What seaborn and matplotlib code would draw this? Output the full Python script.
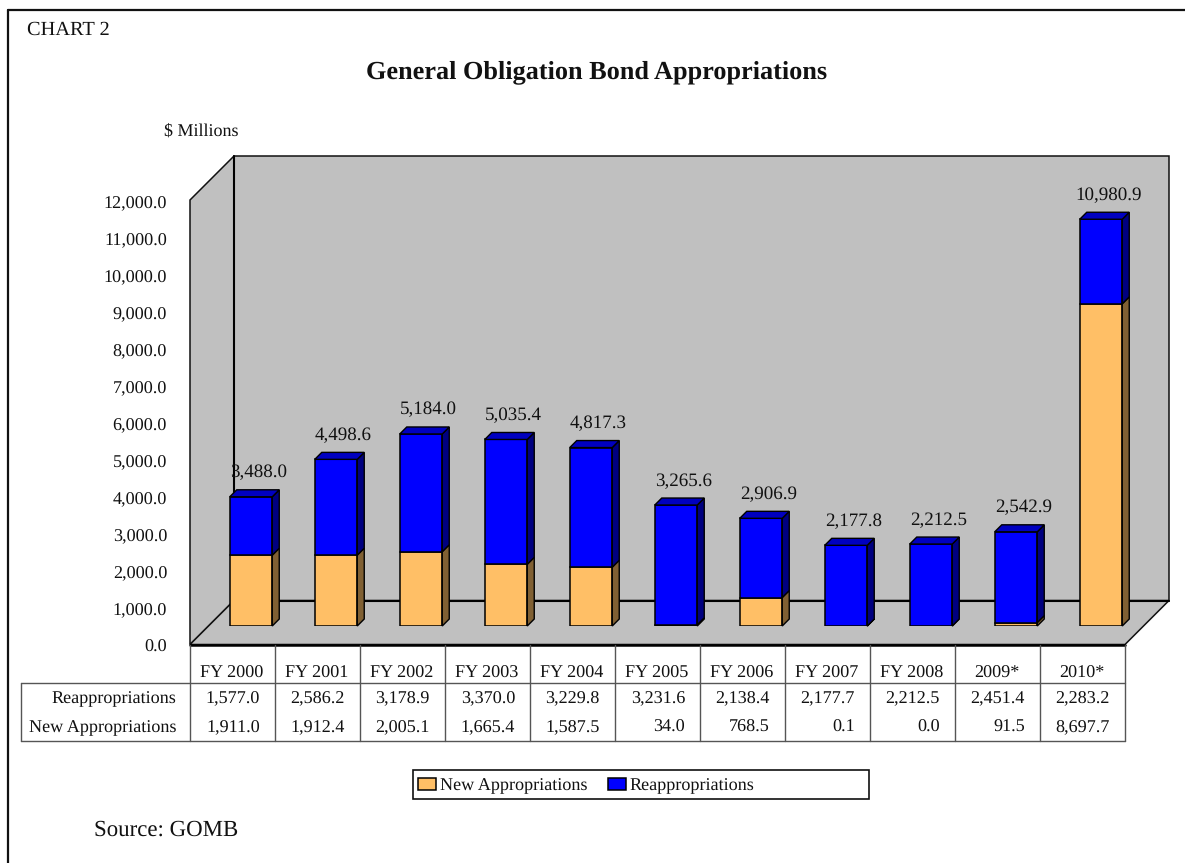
import matplotlib
matplotlib.use("Agg")
import matplotlib.pyplot as plt
from matplotlib.lines import Line2D
from matplotlib.patches import Patch, Polygon, Rectangle
from matplotlib.transforms import Affine2D, IdentityTransform, offset_copy
import pandas as pd
import seaborn as sns

years = ["FY 2000", "FY 2001", "FY 2002", "FY 2003", "FY 2004", "FY 2005",
         "FY 2006", "FY 2007", "FY 2008", "2009*", "2010*"]
reappropriations = [1577.0, 2586.2, 3178.9, 3370.0, 3229.8, 3231.6,
                    2138.4, 2177.7, 2212.5, 2451.4, 2283.2]
new_appropriations = [1911.0, 1912.4, 2005.1, 1665.4, 1587.5, 34.0,
                      768.5, 0.1, 0.0, 91.5, 8697.7]
totals = [3488.0, 4498.6, 5184.0, 5035.4, 4817.3, 3265.6,
          2906.9, 2177.8, 2212.5, 2542.9, 10980.9]

W, H = 1185, 863
sns.set_style("white")
plt.rcParams["font.family"] = ["Liberation Serif", "DejaVu Serif"]
plt.rcParams["text.color"] = "#111111"
plt.rcParams["ytick.color"] = "#111111"
plt.rcParams["text.hinting"] = "no_hinting"
FS = 13.1

ORANGE, ORANGE_SIDE = "#FFBF66", "#806033"
BLUE, BLUE_SIDE, BLUE_TOP = "#0000FF", "#000080", "#0000C0"
WALL = "#C0C0C0"

fig = plt.figure(figsize=(W / 100, H / 100), dpi=100, facecolor="white")
px = Affine2D().scale(1 / W, -1 / H).translate(0, 1) + fig.transFigure


def axes_at(left, top, right, bottom, **kw):
    return fig.add_axes([left / W, 1 - bottom / H, (right - left) / W, (bottom - top) / H], **kw)


# plot geometry, in reference pixels
L, T, R, B = 190, 200, 1125, 644.5
DEPTH, BAR_SHIFT, BAR_DEPTH = 44, 18.5, 7

# outer frame
for xs, ys in [([7.5, 7.5], [10.5, H]), ([7.5, W], [10.5, 10.5])]:
    fig.add_artist(Line2D(xs, ys, transform=px, color="#111111", lw=1.6))

# walls and floor
walls = [
    [(L, T), (L + DEPTH, T - DEPTH), (L + DEPTH, B - DEPTH), (L, B)],
    [(L + DEPTH, T - DEPTH), (R + DEPTH, T - DEPTH), (R + DEPTH, B - DEPTH), (L + DEPTH, B - DEPTH)],
    [(L, B), (L + DEPTH, B - DEPTH), (R + DEPTH, B - DEPTH), (R, B)],
]
for pts in walls:
    fig.add_artist(Polygon(pts, closed=True, transform=px, facecolor=WALL,
                           edgecolor="#111111", lw=1.1, zorder=-2))
fig.add_artist(Line2D([L, R], [B, B], transform=px, color="black", lw=1.8, zorder=-1))
fig.add_artist(Line2D([L + DEPTH, L + DEPTH], [T - DEPTH, B - DEPTH], transform=px, color="black", lw=1.5, zorder=-1))
fig.add_artist(Line2D([L + DEPTH, R + DEPTH], [B - DEPTH, B - DEPTH], transform=px, color="black", lw=1.5, zorder=-1))

# value axis on the front plane
ax = axes_at(L, T, R, B)
ax.patch.set_visible(False)
ax.set_xlim(-0.5, 10.5)
ax.set_ylim(0, 12000)
ax.set_yticks(range(0, 12001, 1000))
ax.set_yticklabels([f"{v:,.1f}" for v in range(0, 12001, 1000)], fontsize=FS)
ax.set_xticks([])
ax.tick_params(axis="y", length=0, pad=16.5)
for tick_label in ax.get_yticklabels():
    tick_label.set_transform(tick_label.get_transform() + Affine2D().translate(0, -1.5))
sns.despine(ax=ax, left=True, bottom=True)

# bars on a plane shifted into the depth of the chart
bar_ax = axes_at(L + BAR_SHIFT, T - BAR_SHIFT, R + BAR_SHIFT, B - BAR_SHIFT)
bar_ax.patch.set_visible(False)
df = pd.DataFrame({"Year": years, "New": new_appropriations, "Re": reappropriations, "Total": totals})
style = dict(width=0.5, saturation=1, edgecolor="black", linewidth=1.1, ax=bar_ax, legend=False)
sns.barplot(data=df, x="Year", y="New", color=ORANGE, **style)
sns.barplot(data=df, x="Year", y="Re", bottom=df["New"], color=BLUE, **style)
bar_ax.set_xlim(-0.5, 10.5)
bar_ax.set_ylim(0, 12000)
bar_ax.set_axis_off()

n = len(years)
for i, p in enumerate(list(bar_ax.patches)):
    x0, x1 = p.get_x(), p.get_x() + p.get_width()
    y0, y1 = p.get_y(), p.get_y() + p.get_height()
    is_blue = i >= n
    to_px = bar_ax.transData
    a, b = to_px.transform((x1, y0)), to_px.transform((x1, y1))
    c = to_px.transform((x0, y1))
    side = [a, b, b + BAR_DEPTH, a + BAR_DEPTH]
    bar_ax.add_patch(Polygon(side, closed=True, transform=IdentityTransform(),
                             facecolor=BLUE_SIDE if is_blue else ORANGE_SIDE,
                             edgecolor="black", lw=1.0, clip_on=False))
    if is_blue:
        top = [c, b, b + BAR_DEPTH, c + BAR_DEPTH]
        bar_ax.add_patch(Polygon(top, closed=True, transform=IdentityTransform(), facecolor=BLUE_TOP,
                                 edgecolor="black", lw=1.0, clip_on=False))

label_tf = offset_copy(bar_ax.transData, fig=fig, x=7.3, y=24, units="dots")
for i, total in enumerate(totals):
    bar_ax.text(i, total, f"{total:,.1f}", transform=label_tf, ha="center", va="center",
                fontsize=13.7, clip_on=False)

# data table
TBL_L, TBL_TOP, TBL_HDR, TBL_BOT = 21, B, 682.5, 740.5
line = dict(transform=px, color="#555555", lw=1.0, zorder=3)
fig.add_artist(Line2D([TBL_L, R], [TBL_HDR, TBL_HDR], **line))
fig.add_artist(Line2D([TBL_L, R], [TBL_BOT, TBL_BOT], **line))
fig.add_artist(Line2D([TBL_L, TBL_L], [TBL_HDR, TBL_BOT], **line))
cell = (R - L) / n
for i in range(n + 1):
    x = L + i * cell
    fig.add_artist(Line2D([x, x], [TBL_TOP, TBL_BOT], **line))
fig.text(176, 698.5, "Reappropriations", transform=px, ha="right", va="center", fontsize=FS)
fig.text(176, 727.5, "New Appropriations", transform=px, ha="right", va="center", fontsize=FS)
for i, y in enumerate(years):
    fig.text(L + (i + 0.5) * cell - 1, 673, y, transform=px, ha="center", va="center", fontsize=FS)
    fig.text(L + (i + 1) * cell - 15, 698.5, f"{reappropriations[i]:,.1f}", transform=px,
             ha="right", va="center", fontsize=FS)
    fig.text(L + (i + 1) * cell - 15, 727.5, f"{new_appropriations[i]:,.1f}", transform=px,
             ha="right", va="center", fontsize=FS)

# legend
fig.add_artist(Rectangle((413, 769.5), 456, 29, transform=px, facecolor="white",
                         edgecolor="#111111", lw=1.2, zorder=2))
handles = [Patch(facecolor=ORANGE, edgecolor="black", lw=1.1, label="New Appropriations"),
           Patch(facecolor=BLUE, edgecolor="black", lw=1.1, label="Reappropriations")]
leg = fig.legend(handles=handles, ncol=2, frameon=False, fontsize=FS, loc="center left",
                 bbox_to_anchor=(418 / W, 1 - 786 / H), borderpad=0, borderaxespad=0,
                 handlelength=1.0, handleheight=0.6, handletextpad=0.2, columnspacing=1.13)
leg.set_zorder(4)

# titles and notes
fig.text(27, 29.5, "CHART 2", transform=px, ha="left", va="center", fontsize=14.7)
fig.text(596.5, 72.5, "General Obligation Bond Appropriations", transform=px, ha="center",
         va="center", fontsize=18.9, fontweight="bold")
fig.text(201, 131, "$ Millions", transform=px, ha="center", va="center", fontsize=13)
fig.text(94, 830, "Source: GOMB", transform=px, ha="left", va="center", fontsize=16.5)

fig.savefig("out.png", dpi=100)
